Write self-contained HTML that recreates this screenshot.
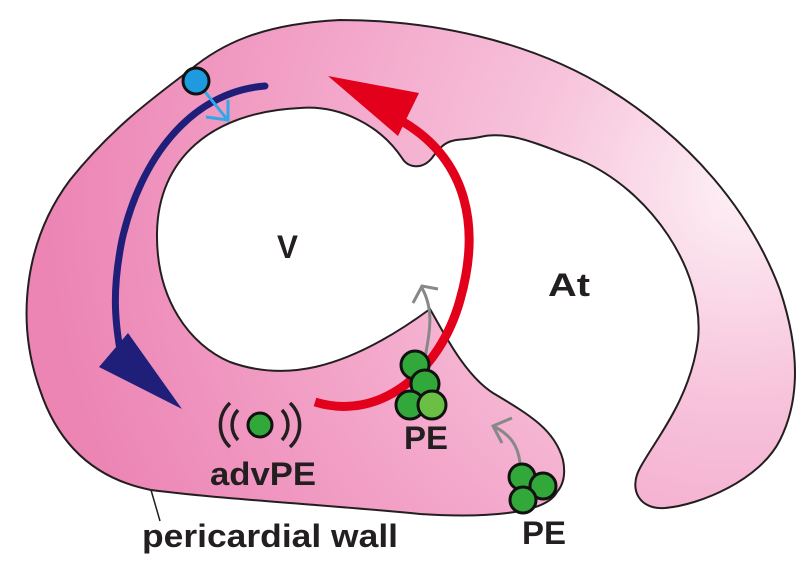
<!DOCTYPE html>
<html><head><meta charset="utf-8"><style>
html,body{margin:0;padding:0;background:#fff;}
svg{display:block;}
text{font-family:"Liberation Sans",Arial,sans-serif;font-weight:bold;fill:#231f20;}
</style></head><body>
<svg width="812" height="567" viewBox="0 0 812 567" xmlns="http://www.w3.org/2000/svg">
<defs>
<radialGradient id="pg" cx="740" cy="190" r="700" gradientUnits="userSpaceOnUse">
<stop offset="0" stop-color="#fdf0f5"/>
<stop offset="0.3" stop-color="#f7c3db"/>
<stop offset="0.6" stop-color="#f3a6ca"/>
<stop offset="1" stop-color="#ec84b4"/>
</radialGradient>
</defs>
<path d="M 557,492
C 545,515 480,518 420,514
C 330,505 230,500 151,490
C 100,480 60,450 40,390
C 15,320 25,240 70,180
C 110,130 150,100 190,70
C 220,45 260,24 340,20
C 430,20 530,40 610,90
C 690,140 750,210 780,290
C 800,350 800,400 780,440
C 760,480 700,505 665,508
C 640,510 628,490 640,468
C 655,440 690,400 698,340
C 705,270 650,190 580,160
C 540,145 510,130 480,137
C 455,142 448,135 432,158
C 422,170 408,168 402,158
C 380,125 340,105 300,108
C 210,112 158,160 157,233
C 156,300 190,345 230,362
C 280,380 340,375 430,309
C 445,335 465,375 493,393
C 530,415 555,430 563,460
C 566,475 563,485 557,492 Z"
fill="url(#pg)" stroke="#231f20" stroke-width="2"/>
<line x1="151" y1="490" x2="160" y2="521" stroke="#231f20" stroke-width="1.5"/>
<!-- blue arc -->
<path d="M 265,86 C 190,92 140,160 122,240 C 112,290 115,320 120,350" fill="none" stroke="#1f1f7a" stroke-width="7" stroke-linecap="round"/>
<polygon points="99,367 128,333 182,409" fill="#1f1f7a"/>
<!-- red arc -->
<path d="M 315,402 C 380,422 440,372 460,300 C 480,230 470,160 400,120" fill="none" stroke="#e3001b" stroke-width="9"/>
<polygon points="328,76 419,93 398,136" fill="#e3001b"/>
<!-- blue cell -->
<line x1="202" y1="88" x2="226" y2="118" stroke="#2ea8e6" stroke-width="3"/>
<polyline points="206,117 228,120 228,100" fill="none" stroke="#2ea8e6" stroke-width="3"/>
<circle cx="196" cy="81" r="13" fill="#1e9be0" stroke="#111" stroke-width="3"/>
<!-- gray arrows -->
<path d="M 425,358 C 430,330 434,310 422,288" fill="none" stroke="#888" stroke-width="3"/>
<polyline points="413,303 422,286 438,289" fill="none" stroke="#888" stroke-width="3"/>
<path d="M 520,463 C 518,445 510,435 495,427" fill="none" stroke="#888" stroke-width="3"/>
<polyline points="502,443 493,426 512,418" fill="none" stroke="#888" stroke-width="3"/>
<g stroke="#111" stroke-width="3">
<circle cx="415" cy="365" r="14" fill="#33a83a"/>
<circle cx="425" cy="384" r="14" fill="#33a83a"/>
<circle cx="410" cy="405" r="14" fill="#33a83a"/>
<circle cx="432" cy="405" r="14" fill="#6bbf45"/>
<circle cx="522" cy="477" r="13" fill="#33a83a"/>
<circle cx="543" cy="486" r="13" fill="#33a83a"/>
<circle cx="523" cy="500" r="13" fill="#33a83a"/>
<circle cx="260" cy="425" r="12" fill="#33a83a"/>
</g>
<g fill="none" stroke="#231f20" stroke-width="3.5">
<path d="M 238,410 A 22,22 0 0 0 238,440"/>
<path d="M 230,403 A 30,30 0 0 0 230,447"/>
<path d="M 282,410 A 22,22 0 0 1 282,440"/>
<path d="M 290,403 A 30,30 0 0 1 290,447"/>
</g>
<text x="277" y="258" font-size="32" textLength="21" lengthAdjust="spacingAndGlyphs">V</text>
<text x="548" y="296" font-size="32" textLength="42" lengthAdjust="spacingAndGlyphs">At</text>
<text x="404" y="449" font-size="32" textLength="44" lengthAdjust="spacingAndGlyphs">PE</text>
<text x="522" y="544" font-size="32" textLength="44" lengthAdjust="spacingAndGlyphs">PE</text>
<text x="210" y="485" font-size="32" textLength="106" lengthAdjust="spacingAndGlyphs">advPE</text>
<text x="142" y="547" font-size="32" textLength="256" lengthAdjust="spacingAndGlyphs">pericardial wall</text>
</svg>
</body></html>
